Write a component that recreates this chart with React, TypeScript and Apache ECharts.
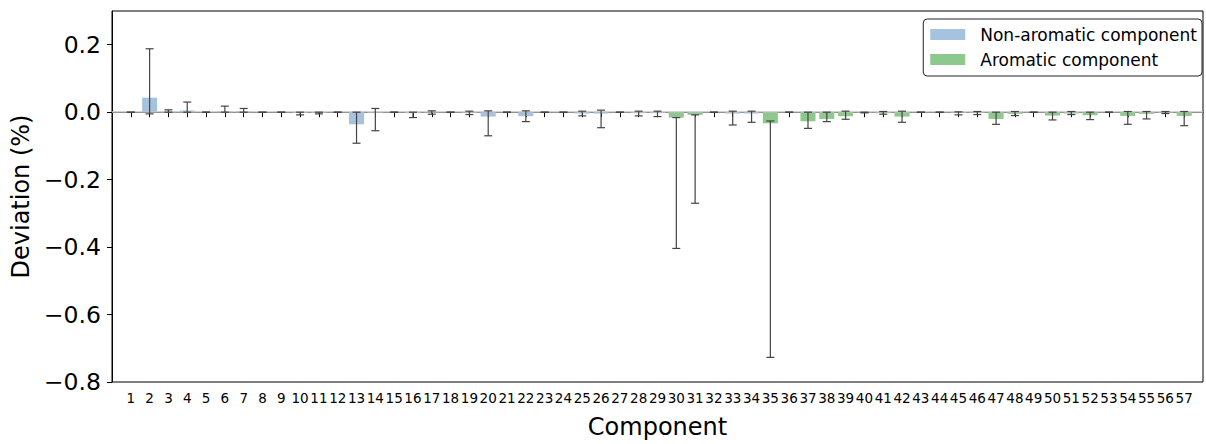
import React, { useEffect, useRef } from "react";
import * as echarts from "echarts";

const components = [
  "1", "2", "3", "4", "5", "6", "7", "8", "9", "10",
  "11", "12", "13", "14", "15", "16", "17", "18", "19", "20",
  "21", "22", "23", "24", "25", "26", "27", "28", "29", "30",
  "31", "32", "33", "34", "35", "36", "37", "38", "39", "40",
  "41", "42", "43", "44", "45", "46", "47", "48", "49", "50",
  "51", "52", "53", "54", "55", "56", "57",
];

// 1 = aromatic component, 0 = non-aromatic component
const aromatic = [
  0, 0, 0, 0, 0, 0, 0, 0, 0, 0,
  0, 0, 0, 1, 0, 0, 0, 0, 0, 0,
  0, 0, 0, 0, 0, 0, 0, 0, 0, 1,
  1, 1, 0, 0, 1, 1, 1, 1, 1, 1,
  1, 1, 1, 1, 1, 1, 1, 1, 1, 1,
  1, 1, 1, 1, 1, 1, 1,
];

const meanDeviation = [
  0, 0.043, 0.002, 0.005, 0, 0.003, 0.003, 0, 0, -0.002,
  -0.002, 0, -0.036, -0.002, 0, -0.003, -0.001, 0, -0.002, -0.013,
  0, -0.012, 0, 0, -0.004, -0.004, 0, -0.003, -0.003, -0.016,
  -0.008, 0, -0.004, -0.004, -0.033, 0, -0.027, -0.02, -0.012, -0.001,
  -0.003, -0.013, 0, 0, -0.002, -0.002, -0.02, -0.005, 0, -0.01,
  -0.004, -0.009, 0, -0.011, -0.005, -0.002, -0.011,
];

const errorLow = [
  0, -0.005, 0, 0, 0, 0, 0, 0, 0, -0.008,
  -0.005, 0, -0.092, -0.055, 0, -0.016, -0.006, 0, -0.007, -0.07,
  0, -0.028, 0, 0, -0.011, -0.046, 0, -0.011, -0.013, -0.404,
  -0.27, 0, -0.038, -0.03, -0.727, 0, -0.048, -0.028, -0.021, -0.002,
  -0.006, -0.03, 0, 0, -0.008, -0.007, -0.036, -0.01, 0, -0.023,
  -0.007, -0.022, 0, -0.036, -0.02, -0.004, -0.04,
];

const errorHigh = [
  0, 0.188, 0.007, 0.03, 0, 0.018, 0.011, 0, 0, 0,
  0, 0, 0, 0.011, 0, 0, 0.004, 0, 0.003, 0.004,
  0, 0.004, 0, 0, 0.003, 0.006, 0, 0.003, 0.003, -0.016,
  -0.008, 0, 0.003, 0.003, -0.026, 0, 0, 0, 0.003, 0,
  0.002, 0.003, 0, 0, 0.001, 0.002, 0, 0.002, 0, 0,
  0.002, 0, 0, 0.002, 0.002, 0.002, 0.002,
];

const yTicks = [-0.8, -0.6, -0.4, -0.2, 0, 0.2];

const FONT = "DejaVu Sans";
const BLUE = "#a5c3df";
const GREEN = "#8dc88d";

export default function App() {
  const ref = useRef<HTMLDivElement>(null);

  useEffect(() => {
    document.body.style.margin = "0";
    if (!ref.current) return;
    const chart = echarts.init(ref.current, null, { renderer: "svg" });

    const cats = ["", ...components, ""];
    const nonArom = [null, ...meanDeviation.map((v, i) => (aromatic[i] ? null : v)), null];
    const arom = [null, ...meanDeviation.map((v, i) => (aromatic[i] ? v : null)), null];
    const errData = meanDeviation.map((_, i) => [i + 1, errorLow[i], errorHigh[i]]);

    chart.setOption({
      animation: false,
      grid: {
        left: 112,
        top: 11,
        width: 1102,
        height: 374,
        show: true,
        borderColor: "#000",
        borderWidth: 1,
        backgroundColor: "transparent",
      },
      legend: {
        orient: "vertical",
        right: 4,
        top: 19,
        itemWidth: 35,
        itemHeight: 11,
        itemGap: 8,
        icon: "rect",
        padding: [7, 5, 8, 7],
        borderColor: "#222",
        borderWidth: 1,
        borderRadius: 4,
        data: ["Non-aromatic component", "Aromatic component"],
        textStyle: {
          fontFamily: FONT,
          fontSize: 17,
          color: "#000",
          padding: [0, 0, 0, 10],
        },
      },
      xAxis: {
        type: "category",
        data: cats,
        boundaryGap: false,
        name: "Component",
        nameLocation: "middle",
        nameGap: 33,
        nameTextStyle: { fontFamily: FONT, fontSize: 24, color: "#000" },
        axisLine: { lineStyle: { color: "#000", width: 1 } },
        axisTick: {
          length: 5,
          interval: (index: number) => index > 0 && index < cats.length - 1,
          lineStyle: { color: "#000" },
        },
        axisLabel: {
          interval: 0,
          hideOverlap: false,
          margin: 9,
          fontFamily: FONT,
          fontSize: 13.5,
          color: "#000",
        },
        splitLine: { show: false },
      },
      yAxis: {
        type: "value",
        min: -0.8,
        max: 0.3,
        name: "Deviation (%)",
        nameLocation: "middle",
        nameGap: 76,
        nameTextStyle: { fontFamily: FONT, fontSize: 24, color: "#000" },
        axisLine: { show: true, lineStyle: { color: "#000", width: 1 } },
        axisTick: { show: true, length: 5, customValues: yTicks, lineStyle: { color: "#000" } },
        axisLabel: {
          customValues: yTicks,
          margin: 11,
          fontFamily: FONT,
          fontSize: 23.5,
          color: "#000",
          formatter: (v: number) => v.toFixed(1).replace("-", "\u2212"),
        },
        splitLine: { show: false },
      },
      series: [
        {
          name: "Non-aromatic component",
          type: "bar",
          data: nonArom,
          barWidth: "80%",
          barGap: "-100%",
          itemStyle: { color: BLUE },
          z: 2,
        },
        {
          name: "Aromatic component",
          type: "bar",
          data: arom,
          barWidth: "80%",
          barGap: "-100%",
          itemStyle: { color: GREEN },
          z: 2,
          markLine: {
            silent: true,
            symbol: "none",
            label: { show: false },
            lineStyle: { color: "#c4c4c4", width: 1.5, type: "solid" },
            data: [{ yAxis: 0 }],
            z: 3,
          },
        },
        {
          name: "error",
          type: "custom",
          z: 5,
          data: errData,
          encode: { x: 0, y: [1, 2] },
          renderItem: (params: any, api: any) => {
            const x = api.value(0);
            const lo = api.coord([x, api.value(1)]);
            const hi = api.coord([x, api.value(2)]);
            const hw = 4;
            const style = { stroke: "#444", lineWidth: 1.2 };
            return {
              type: "group",
              children: [
                { type: "line", shape: { x1: lo[0], y1: lo[1], x2: hi[0], y2: hi[1] }, style },
                { type: "line", shape: { x1: lo[0] - hw, y1: lo[1], x2: lo[0] + hw, y2: lo[1] }, style },
                { type: "line", shape: { x1: hi[0] - hw, y1: hi[1], x2: hi[0] + hw, y2: hi[1] }, style },
              ],
            };
          },
        },
      ],
    });

    return () => chart.dispose();
  }, []);

  return <div ref={ref} style={{ width: 1206, height: 444 }} />;
}
